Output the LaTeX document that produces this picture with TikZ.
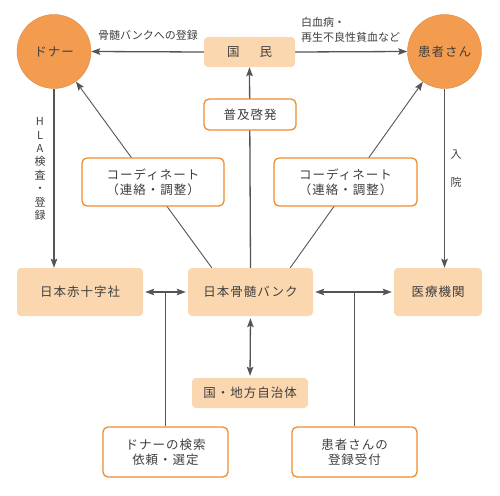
\documentclass[tikz,border=0pt]{standalone}
\usepackage{fontspec}
\setmainfont{Noto Sans CJK JP}
\usetikzlibrary{arrows.meta,calc}
\definecolor{circfill}{HTML}{F39B4F}
\definecolor{peach}{HTML}{FBD7AF}
\definecolor{orborder}{HTML}{F08C2E}
\definecolor{linegray}{HTML}{555555}
\definecolor{txt}{HTML}{3F3F3F}
\pgfdeclarelayer{bg}
\pgfsetlayers{bg,main}
\newcommand{\boxfont}{\fontsize{12.5}{15}\selectfont\addfontfeature{LetterSpace=8}}
\newcommand{\lblfont}{\fontsize{11}{15}\selectfont}
\tikzset{
  circnode/.style={circle,fill=circfill,draw=circfill!90!black,line width=0.4pt,minimum size=74pt,inner sep=0pt,text=txt,font=\boxfont},
  pbox/.style={rectangle,rounded corners=4pt,fill=peach,inner sep=0pt,text=txt,font=\boxfont},
  wbox/.style={rectangle,rounded corners=5pt,fill=white,draw=orborder,line width=1.3pt,inner sep=0pt,text=txt,font=\boxfont,align=center},
  lbl/.style={text=txt,font=\lblfont,inner sep=0pt},
  conn/.style={draw=linegray,line width=1.3pt},
  thin/.style={draw=linegray,line width=0.9pt},
  arr/.style={-{Stealth[length=9pt,width=6.5pt,inset=1.5pt]}},
  darr/.style={{Stealth[length=9pt,width=6.5pt,inset=1.5pt]}-{Stealth[length=9pt,width=6.5pt,inset=1.5pt]}}
}
\begin{document}
\begin{tikzpicture}[x=1pt,y=-1pt]
\useasboundingbox (0,0) rectangle (500,495);
% nodes
\node[circnode] (donor) at (54,51.5) {ドナー};
\node[circnode] (patient) at (444.5,51.5) {患者さん};
\node[pbox,minimum width=91pt,minimum height=30pt] (kokumin) at (249.5,52) {国\hspace{20pt}民};
\node[wbox,minimum width=92pt,minimum height=31pt] (fukyu) at (250,114.5) {普及啓発};
\node[wbox,minimum width=142pt,minimum height=48pt] (coordL) at (153,182) {コーディネート\\（連絡・調整）};
\node[wbox,minimum width=143pt,minimum height=48pt] (coordR) at (345.5,182) {コーディネート\\（連絡・調整）};
\node[pbox,minimum width=125pt,minimum height=48pt] (bank) at (250.5,292) {日本骨髄バンク};
\node[pbox,minimum width=126pt,minimum height=48pt] (redcross) at (80,292) {日本赤十字社};
\node[pbox,minimum width=88pt,minimum height=48pt] (iryo) at (438,292) {医療機関};
\node[pbox,minimum width=116pt,minimum height=30pt] (gov) at (250,393) {国・地方自治体};
\node[wbox,minimum width=125pt,minimum height=50pt] (search) at (165.5,452) {ドナーの検索\\依頼・選定};
\node[wbox,minimum width=125pt,minimum height=50pt] (reg) at (354.5,452) {患者さんの\\登録受付};
% labels
\node[lbl] (l1) at (148,35) {骨髄バンクへの登録};
\node[lbl,anchor=west,align=left] (l2) at (301,29.5) {白血病・\\再生不良性貧血など};
\node[lbl,align=center,font=\fontsize{11}{13.4}\selectfont] (l3) at (40,169) {H\\L\\A\\検\\査\\・\\登\\録};
\node[lbl,align=center,font=\fontsize{11}{28}\selectfont] (l4) at (456,169) {入\\院};
% connectors
\begin{pgfonlayer}{bg}
\draw[conn,arr] (kokumin.west) -- (donor.east);
\draw[conn,arr] (kokumin.east) -- (patient.west);
\draw[conn,arr] (bank.north) -- (kokumin.south);
\coordinate (bl) at ($(bank.north west)+(24,0)$);
\coordinate (br) at ($(bank.north east)+(-23,0)$);
\draw[thin,arr] (bl) -- (donor);
\draw[thin,arr] (br) -- (patient);
\draw[conn,arr] (donor.south) -- (donor.south |- redcross.north);
\draw[conn,arr] (patient.south) -- (patient.south |- iryo.north);
\draw[conn,darr,shorten <=2pt,shorten >=2pt] (redcross.east) -- (bank.west);
\draw[conn,darr,shorten <=2pt,shorten >=2pt] (bank.east) -- (iryo.west);
\draw[conn,darr,shorten <=2pt,shorten >=2pt] (bank.south) -- (gov.north);
\draw[thin] (search.north) -- (search.north |- bank.west);
\draw[thin] (reg.north) -- (reg.north |- bank.east);
\end{pgfonlayer}
\end{tikzpicture}
\end{document}
